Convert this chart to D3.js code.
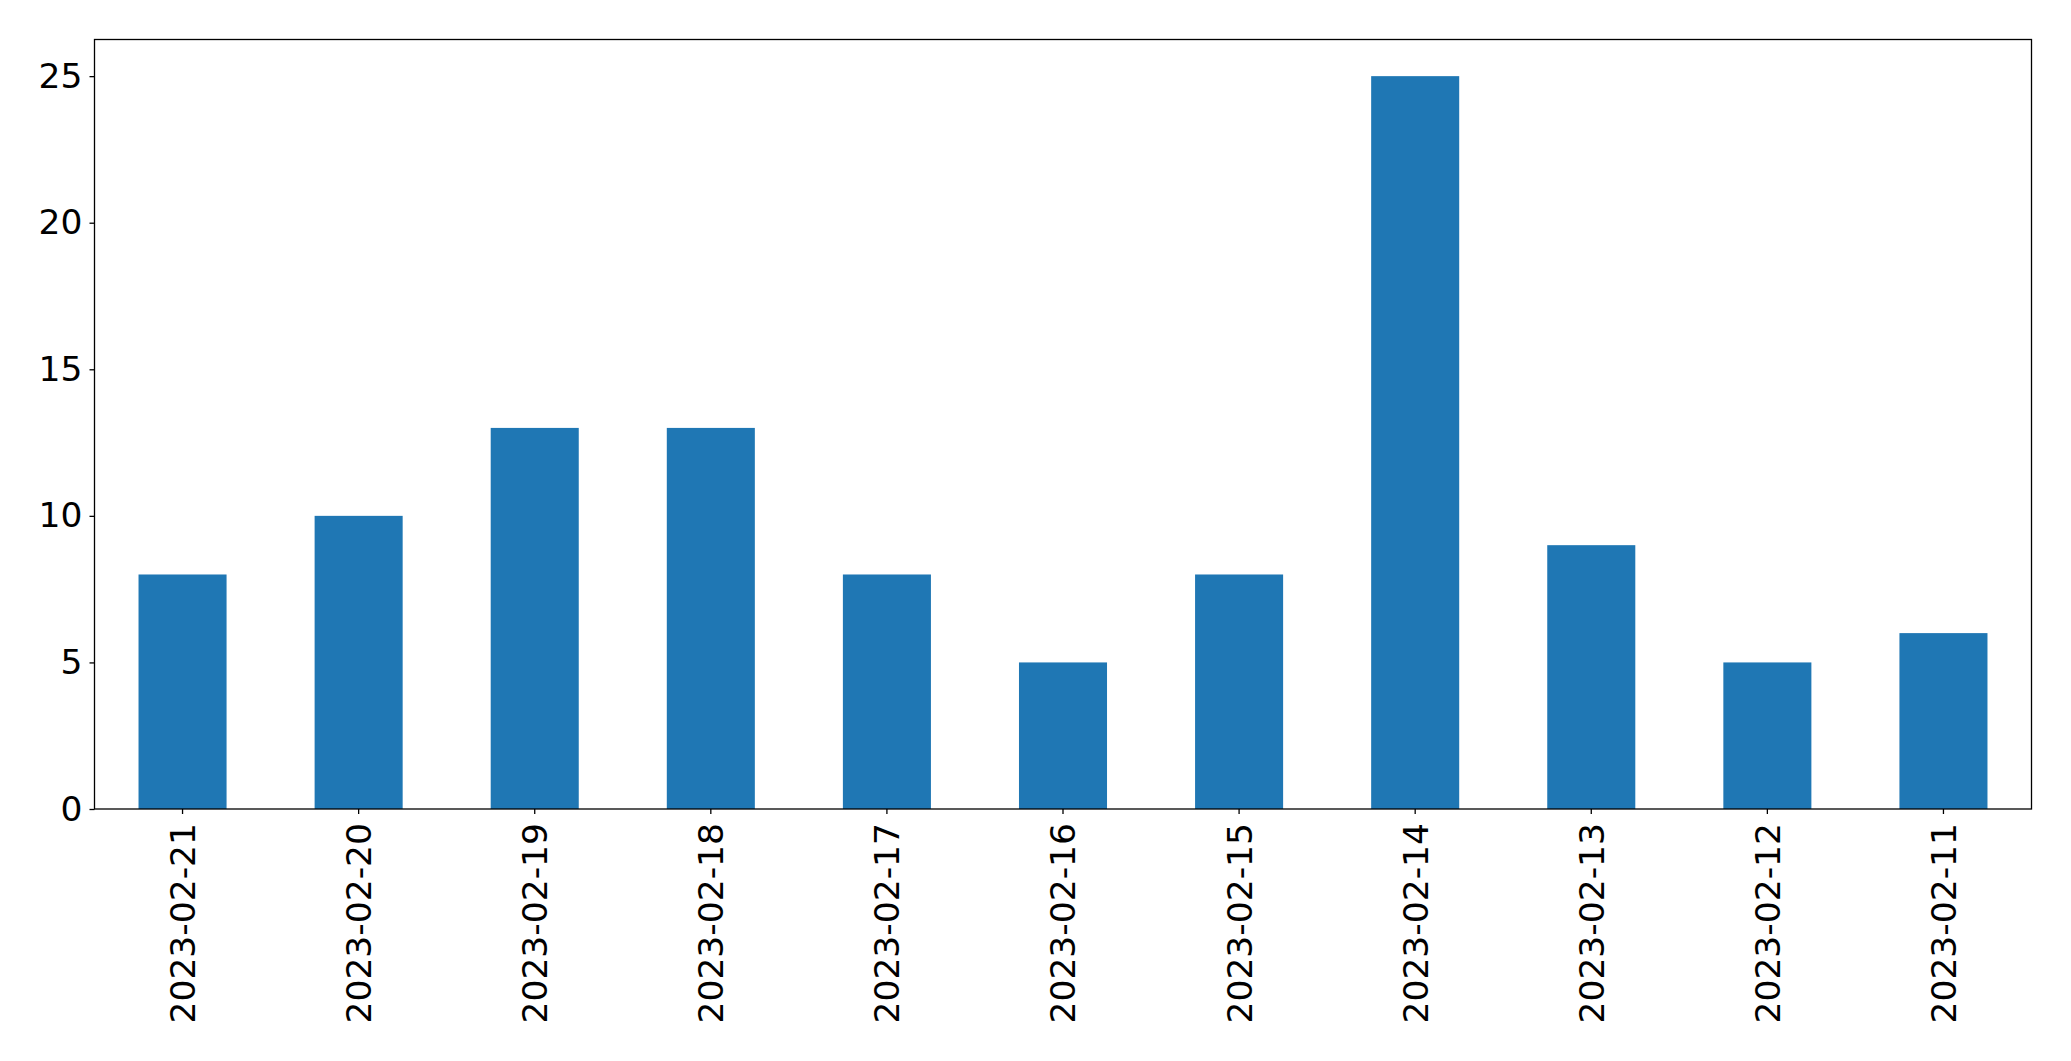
<!DOCTYPE html>
<html><head><meta charset="utf-8">
<script src="https://cdn.jsdelivr.net/npm/d3@7"></script>
<style>body{margin:0;background:#fff}svg{display:block}text{font-family:"DejaVu Sans",sans-serif;fill:#000}</style>
</head><body>
<script>
const categories = ["2023-02-21","2023-02-20","2023-02-19","2023-02-18","2023-02-17","2023-02-16","2023-02-15","2023-02-14","2023-02-13","2023-02-12","2023-02-11"];
const values = [8,10,13,13,8,5,8,25,9,5,6];
const yTicks = [0,5,10,15,20,25];

const W = 2071, H = 1061;
const L = 94.5, R = 2031.5, T = 39.5, B = 809;
const fs = 34.5;
const svg = d3.select("body").append("svg").attr("width", W).attr("height", H);

const x = d3.scaleBand().domain(categories).range([L, R]).paddingInner(0.5).paddingOuter(0.25);
const y = d3.scaleLinear().domain([0, 26.25]).range([B, T]);

svg.append("g").selectAll("rect").data(values).join("rect")
  .attr("x", (d,i) => x(categories[i]))
  .attr("width", x.bandwidth())
  .attr("y", d => y(d))
  .attr("height", d => B - y(d))
  .attr("fill", "#1f77b4");

// frame
svg.append("rect").attr("x", L).attr("y", T).attr("width", R - L).attr("height", B - T)
  .attr("fill", "none").attr("stroke", "#000").attr("stroke-width", 1.3);

// y axis
const yAxis = d3.axisLeft(y).tickValues(yTicks).tickSize(5).tickPadding(7).tickFormat(d3.format("d"));
const gy = svg.append("g").attr("transform", `translate(${L},0)`).call(yAxis);
gy.select(".domain").remove();
gy.selectAll("line").attr("stroke", "#000").attr("stroke-width", 1.3);
gy.selectAll("text").attr("font-size", fs).attr("font-family", "DejaVu Sans");

// x axis
const xAxis = d3.axisBottom(x).tickSize(5).tickPadding(0);
const gx = svg.append("g").attr("transform", `translate(0,${B})`).call(xAxis);
gx.select(".domain").remove();
gx.selectAll("line").attr("stroke", "#000").attr("stroke-width", 1.3);
gx.selectAll("text")
  .attr("font-size", fs).attr("font-family", "DejaVu Sans")
  .attr("text-anchor", "end")
  .attr("x", 0).attr("y", 0).attr("dy", "0.36em")
  .attr("transform", "translate(0,14) rotate(-90)");
</script>
</body></html>
